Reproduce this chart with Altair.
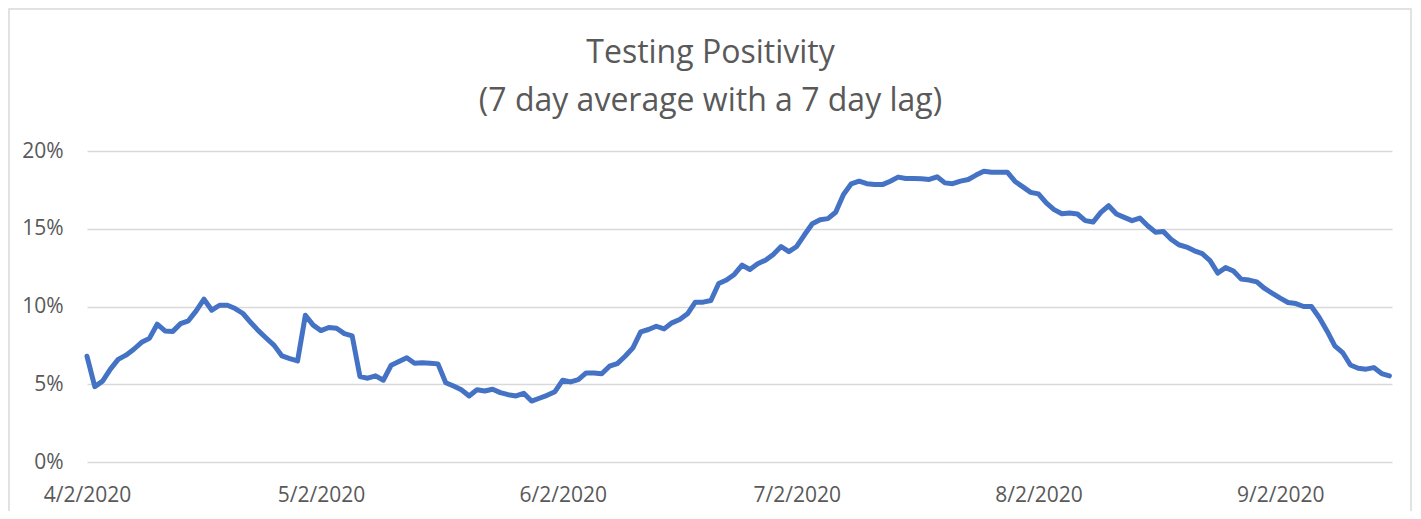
import altair as alt
import pandas as pd

title_lines = ["Testing Positivity", "(7 day average with a 7 day lag)"]
start_date = "2020-04-02"
# daily positivity (%) from 4/2/2020
positivity = [
    6.8, 4.85, 5.2, 5.97, 6.6, 6.87, 7.25, 7.7, 7.95, 8.86,
    8.43, 8.4, 8.9, 9.08, 9.72, 10.47, 9.76, 10.08, 10.08, 9.87,
    9.55, 8.97, 8.43, 7.96, 7.5, 6.82, 6.65, 6.5, 9.44, 8.8,
    8.45, 8.65, 8.6, 8.26, 8.11, 5.49, 5.39, 5.54, 5.26, 6.22,
    6.46, 6.7, 6.35, 6.39, 6.35, 6.31, 5.1, 4.89, 4.64, 4.25,
    4.64, 4.57, 4.68, 4.46, 4.33, 4.25, 4.42, 3.92, 4.1, 4.29,
    4.52, 5.26, 5.15, 5.3, 5.73, 5.73, 5.67, 6.16, 6.33, 6.8,
    7.34, 8.37, 8.52, 8.73, 8.56, 8.95, 9.16, 9.53, 10.28, 10.28,
    10.39, 11.48, 11.7, 12.06, 12.66, 12.38, 12.75, 12.98, 13.35, 13.86,
    13.53, 13.86, 14.61, 15.32, 15.58, 15.65, 16.06, 17.2, 17.89, 18.06,
    17.9, 17.84, 17.84, 18.06, 18.32, 18.23, 18.23, 18.21, 18.17, 18.34,
    17.95, 17.9, 18.06, 18.17, 18.45, 18.7, 18.64, 18.64, 18.64, 18.04,
    17.69, 17.34, 17.24, 16.66, 16.23, 15.97, 16.01, 15.95, 15.52, 15.43,
    16.05, 16.48, 15.95, 15.73, 15.52, 15.69, 15.19, 14.78, 14.83, 14.33,
    13.97, 13.82, 13.58, 13.4, 12.95, 12.15, 12.5, 12.28, 11.76, 11.7,
    11.58, 11.16, 10.84, 10.54, 10.26, 10.19, 10.0, 10.0, 9.29, 8.43,
    7.47, 7.04, 6.24, 6.03, 5.97, 6.07, 5.69, 5.54,
]
y_ticks = [0, 5, 10, 15, 20]
x_tick_months = [4, 5, 6, 7, 8, 9]

dates = pd.date_range(start_date, periods=len(positivity), freq="D")
df = pd.DataFrame({
    "date": [d.strftime("%Y-%m-%dT00:00:00") for d in dates],
    "value": positivity,
})

LABEL = "#595959"
FONT = "Open Sans"

x_enc = alt.X(
    "date:T",
    scale=alt.Scale(domain=[alt.DateTime(year=2020, month=4, date=2),
                            alt.DateTime(year=2020, month=9, date=16, hours=8)]),
    axis=alt.Axis(
        values=[alt.DateTime(year=2020, month=m, date=2) for m in x_tick_months],
        format="%-m/%-d/%Y", title=None, grid=False, ticks=False, domain=False,
        labelFontSize=21, labelColor=LABEL, labelFont=FONT, labelPadding=22,
        labelFlush=False,
    ),
)
y_enc = alt.Y(
    "value:Q",
    scale=alt.Scale(domain=[0, 20], nice=False),
    axis=alt.Axis(
        values=y_ticks, labelExpr="datum.value + '%'", title=None,
        ticks=False, domain=False, gridColor="#d9d9d9", gridWidth=1.5,
        labelFontSize=21, labelColor=LABEL, labelFont=FONT, labelPadding=24,
    ),
)

line = alt.Chart(df).mark_line(
    color="#4472c4", strokeWidth=5, strokeJoin="round", strokeCap="round"
).encode(x=x_enc, y=y_enc)

frame = alt.Chart(alt.Data(values=[{"a": 1}])).mark_rect(
    fill="transparent", stroke="#d9d9d9", strokeWidth=1.5
).encode(x=alt.value(-78), x2=alt.value(1324), y=alt.value(-142), y2=alt.value(400))

chart = alt.layer(frame, line).properties(
    width=1305, height=311,
    title=alt.Title(
        text=title_lines, fontSize=32, font=FONT, color=LABEL,
        fontWeight="normal", lineHeight=48, anchor="middle", frame="group",
        baseline="alphabetic", dx=-29, offset=-135,
    ),
    autosize=alt.AutoSizeParams(type="none"),
    padding={"left": 79, "top": 143, "right": 20, "bottom": 49},
    background="white",
).configure_view(stroke=None)

chart.save("out.html", embed_options={"renderer": "svg", "actions": False})
